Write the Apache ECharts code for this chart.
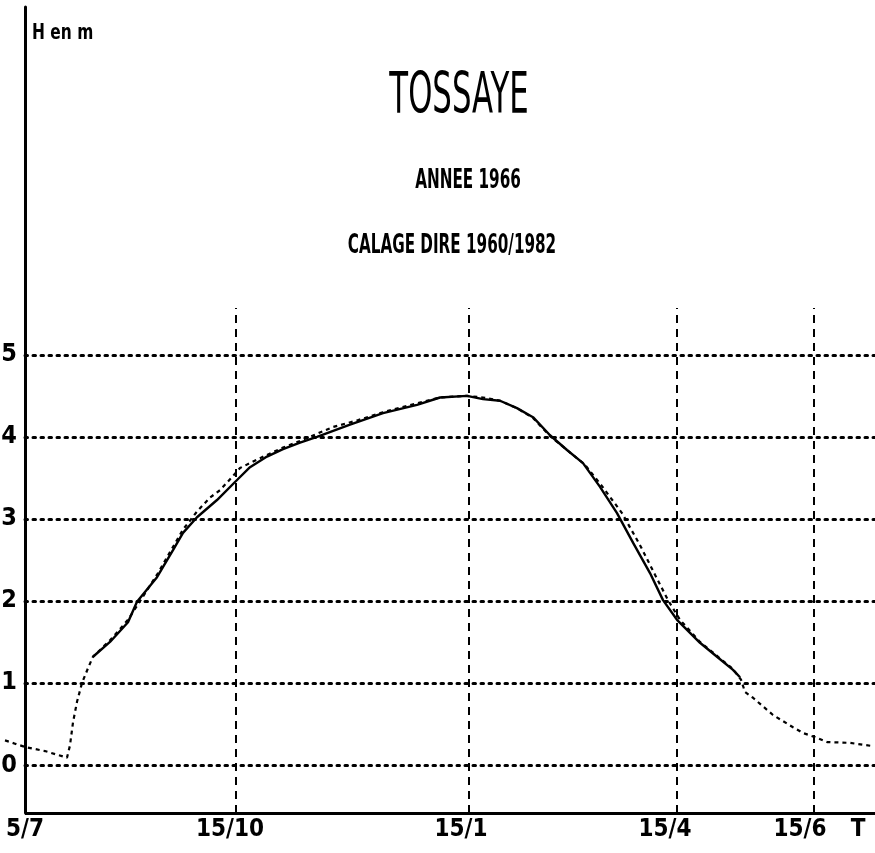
<!DOCTYPE html>
<html>
<head>
<meta charset="utf-8">
<script src="https://cdn.jsdelivr.net/npm/echarts@6/dist/echarts.min.js"></script>
<style>html,body{margin:0;padding:0;background:#fff}#c{width:875px;height:853px}</style>
</head>
<body>
<div id="c"></div>
<script>
// Time axis position units (picture scale), values in m
var observedX = [6.8, 8.5, 10.3, 11.2, 13.2, 14.8, 15.8, 17.2, 19.2, 21.0, 22.5, 24.2, 25.8, 27.5, 29.2, 32.5, 35.8, 39.2, 41.5, 44.2, 45.8, 47.5, 49.2, 50.8, 52.5, 54.2, 55.8, 57.5, 59.2, 60.8, 62.5, 63.8, 65.2, 67.5, 69.2, 70.8, 71.5];
var observedH = [1.32, 1.50, 1.74, 1.99, 2.29, 2.62, 2.83, 3.02, 3.23, 3.45, 3.63, 3.76, 3.85, 3.93, 4.00, 4.15, 4.29, 4.39, 4.48, 4.50, 4.46, 4.44, 4.35, 4.24, 4.02, 3.84, 3.68, 3.39, 3.07, 2.71, 2.34, 2.01, 1.77, 1.49, 1.32, 1.16, 1.07];
var computedX = [-2.0, -1.0, 0, 2.0, 4.2, 4.5, 4.8, 5.2, 5.7, 6.3, 6.8, 8.5, 10.3, 13.2, 15.8, 17.2, 18.5, 19.5, 20.7, 21.5, 23.5, 25.8, 27.5, 30.8, 33.2, 35.8, 39.2, 41.5, 44.2, 45.8, 47.5, 49.2, 50.8, 52.5, 54.2, 56.0, 57.7, 59.7, 61.5, 63.0, 64.3, 65.5, 67.5, 69.2, 70.8, 71.6, 72.0, 72.8, 74.8, 76.8, 77.8, 79.0, 80.2, 82.5, 84.8];
var computedH = [0.30, 0.26, 0.22, 0.17, 0.09, 0.24, 0.52, 0.77, 1.00, 1.18, 1.32, 1.52, 1.77, 2.32, 2.87, 3.09, 3.26, 3.35, 3.51, 3.62, 3.74, 3.87, 3.95, 4.12, 4.20, 4.30, 4.41, 4.48, 4.50, 4.48, 4.44, 4.35, 4.23, 4.01, 3.84, 3.66, 3.40, 3.07, 2.68, 2.32, 2.01, 1.77, 1.50, 1.33, 1.17, 1.04, 0.89, 0.82, 0.61, 0.46, 0.39, 0.34, 0.28, 0.27, 0.23];
var dateGridX = [21.1, 44.4, 65.2, 78.9];
var dateLabels = ['5/7', '15/10', '15/1', '15/4', '15/6', 'T'];
var dateLabelX = [0.0, 20.5, 43.6, 64.0, 77.5, 83.3];
var yTicks = [0, 1, 2, 3, 4, 5];

var FONT = "'DejaVu Sans Condensed','Liberation Sans Narrow',sans-serif";
var X_MIN = -2, X_AXIS0 = 0, X_MAX = 85, Y_MIN = -0.585, Y_MAX = 9.24, VGRID_TOP = 5.57;

function zip(a, b) { return a.map(function (v, i) { return [v, b[i]]; }); }

var gridDot = { type: [2.5, 5.5], width: 3, color: '#000', cap: 'round' };
var gridDash = { type: [8, 6], width: 2, color: '#000' };
var axisStyle = { type: 'solid', width: 3, color: '#000' };

var markData = [];
yTicks.forEach(function (v) { markData.push([{ coord: [X_AXIS0, v], lineStyle: gridDot }, { coord: [X_MAX, v] }]); });
dateGridX.forEach(function (v) { markData.push([{ coord: [v, Y_MIN], lineStyle: gridDash }, { coord: [v, VGRID_TOP] }]); });
// bottom axis line starting at the vertical axis
markData.push([{ coord: [X_AXIS0, Y_MIN], lineStyle: axisStyle }, { coord: [X_MAX, Y_MIN] }]);

var chart = echarts.init(document.getElementById('c'), null, { renderer: 'canvas' });
chart.setOption({
  animation: false,
  backgroundColor: '#fff',
  grid: { left: 5, right: 0, top: 7, bottom: 40, containLabel: false, outerBoundsMode: 'none' },
  xAxis: {
    type: 'value', min: X_MIN, max: X_MAX,
    axisLine: { show: false },
    axisTick: { show: false },
    splitLine: { show: false },
    axisLabel: {
      customValues: dateLabelX,
      margin: 5,
      color: '#000', fontFamily: FONT, fontSize: 24, fontWeight: 'bold',
      formatter: function (v) {
        for (var i = 0; i < dateLabelX.length; i++) if (Math.abs(dateLabelX[i] - v) < 1e-6) return dateLabels[i];
        return '';
      }
    }
  },
  yAxis: {
    type: 'value', min: Y_MIN, max: Y_MAX,
    offset: -20,
    axisLine: { show: true, onZero: false, lineStyle: { color: '#000', width: 3 } },
    axisTick: { show: false },
    splitLine: { show: false },
    axisLabel: {
      customValues: yTicks,
      margin: 8,
      color: '#000', fontFamily: FONT, fontSize: 25, fontWeight: 'bold'
    }
  },
  graphic: [
    { type: 'text', x: 32, y: 33, scaleX: 0.78, style: { text: 'H en m', font: 'bold 22px ' + FONT, fill: '#000', textAlign: 'left', textVerticalAlign: 'middle' } },
    { type: 'text', x: 459, y: 98, scaleX: 0.6, style: { text: 'TOSSAYE', font: '57px ' + FONT, fill: '#000', textAlign: 'center', textVerticalAlign: 'middle' } },
    { type: 'text', x: 468, y: 181, scaleX: 0.65, style: { text: 'ANNEE 1966', font: 'bold 26px ' + FONT, fill: '#000', textAlign: 'center', textVerticalAlign: 'middle' } },
    { type: 'text', x: 452, y: 246, scaleX: 0.65, style: { text: 'CALAGE DIRE 1960/1982', font: 'bold 26px ' + FONT, fill: '#000', textAlign: 'center', textVerticalAlign: 'middle' } }
  ],
  series: [
    {
      name: 'grid', type: 'line', data: [], silent: true,
      markLine: {
        silent: true, symbol: ['none', 'none'], animation: false,
        label: { show: false },
        data: markData
      }
    },
    {
      name: 'Calculé', type: 'line', data: zip(computedX, computedH), showSymbol: false, clip: false, smooth: false,
      lineStyle: { color: '#000', width: 2.2, type: [4, 4] }, z: 3
    },
    {
      name: 'Observé', type: 'line', data: zip(observedX, observedH), showSymbol: false, clip: false, smooth: false,
      lineStyle: { color: '#000', width: 2.4 }, z: 4
    }
  ]
});
</script>
</body>
</html>
